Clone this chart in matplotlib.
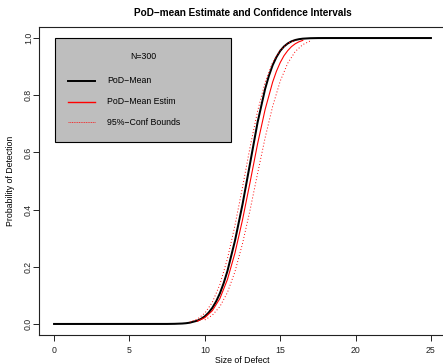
import matplotlib

matplotlib.use("Agg")
import matplotlib.pyplot as plt
from matplotlib.patches import Rectangle
from matplotlib.lines import Line2D

# PoD-mean (true curve)
mean_x = [0.0, 7.5, 8.0, 8.5, 8.75, 9.0, 9.5, 9.75, 10.0, 10.25, 10.5, 10.75, 11.0,
          11.25, 11.5, 12.0, 12.5, 13.0, 13.5, 14.0, 14.25, 14.5, 14.75, 15.0, 15.25,
          15.5, 15.75, 16.0, 16.25, 16.5, 17.0, 17.5, 18.0, 25.0]
mean_y = [0.0, 0.0001, 0.0005, 0.0015, 0.0026, 0.0044, 0.0114, 0.0177, 0.0267, 0.0393,
          0.0564, 0.0787, 0.107, 0.1425, 0.185, 0.291, 0.418, 0.561, 0.705, 0.822,
          0.8676, 0.905, 0.9332, 0.955, 0.9703, 0.981, 0.9884, 0.9931, 0.9960, 0.9978,
          0.9994, 0.9999, 1.0, 1.0]

# PoD-mean estimate
estim_x = [9.5, 10.0, 10.5, 11.0, 11.5, 12.0, 12.5, 13.0, 13.5, 14.0, 14.5, 14.75,
           15.0, 15.25, 15.5, 15.75, 16.0, 16.25, 16.5]
estim_y = [0.0095, 0.022, 0.0465, 0.089, 0.1555, 0.248, 0.364, 0.495, 0.630, 0.750,
           0.846, 0.8836, 0.914, 0.938, 0.956, 0.970, 0.980, 0.987, 0.9918]

# 95% confidence bounds
upper_x = [9.0, 9.5, 10.0, 10.5, 11.0, 11.5, 12.0, 12.5, 13.0, 13.5, 14.0, 14.5,
           15.0, 15.5, 16.0]
upper_y = [0.0068, 0.0168, 0.0376, 0.0758, 0.138, 0.228, 0.345, 0.478, 0.618, 0.744,
           0.845, 0.915, 0.958, 0.9815, 0.9927]
lower_x = [10.0, 10.5, 11.0, 11.5, 12.0, 12.5, 13.0, 13.5, 14.0, 14.5, 15.0, 15.5,
           16.0, 16.5, 17.0]
lower_y = [0.0141, 0.0307, 0.0608, 0.110, 0.183, 0.281, 0.398, 0.526, 0.651, 0.761,
           0.849, 0.912, 0.953, 0.977, 0.990]

legend_labels = ["PoD\u2212Mean", "PoD\u2212Mean Estim", "95%\u2212Conf Bounds"]
legend_title = "N=300"

plt.rcParams.update({
    "font.family": "Liberation Sans",
    "font.size": 6.3,
})

fig = plt.figure(figsize=(4.43, 3.64), dpi=100)
ax = fig.add_axes([39 / 443, 1 - 335.4 / 364, 407 / 443, 308.8 / 364])

ax.plot(mean_x, mean_y, color="black", linewidth=1.45)
ax.plot(estim_x, estim_y, color="red", linewidth=0.8)
dots = (0, (1.0, 2.2))
ax.plot(upper_x, upper_y, color="red", linewidth=0.7, linestyle=dots)
ax.plot(lower_x, lower_y, color="red", linewidth=0.7, linestyle=dots)

ax.set_xlim(-1, 26)
ax.set_ylim(-0.04, 1.04)
ax.set_xticks([0, 5, 10, 15, 20, 25])
ax.set_yticks([0.0, 0.2, 0.4, 0.6, 0.8, 1.0])
ax.set_yticklabels(["0.0", "0.2", "0.4", "0.6", "0.8", "1.0"], rotation=90, va="center")
ax.tick_params(length=4.3, width=0.7, labelsize=6.3, colors="#222222")
ax.tick_params(axis="x", pad=3)
ax.tick_params(axis="y", pad=0)
for s in ax.spines.values():
    s.set_linewidth(0.8)
    s.set_color("#222222")

ax.set_xlabel("Size of Defect", fontsize=6.3, labelpad=2)
ax.xaxis.set_label_coords(0.5, -0.068)
ax.set_ylabel("Probability of Detection", fontsize=6.3)
ax.yaxis.set_label_coords(-0.058, 0.5)
ax.set_title("PoD\u2212mean Estimate and Confidence Intervals", fontsize=7.2,
             fontweight="bold", pad=7.5)

# legend box drawn by hand in data coordinates, as in R
box = Rectangle((0.05, 0.635), 11.7, 0.365, facecolor="#bebebe", edgecolor="black",
                linewidth=0.8, zorder=3)
ax.add_patch(box)
ax.text(5.9, 0.935, legend_title, ha="center", va="center", fontsize=6.3, zorder=4)
styles = [
    dict(color="black", linewidth=1.4),
    dict(color="red", linewidth=1.0),
    dict(color="red", linewidth=0.5, linestyle=(0, (1.5, 1.0))),
]
for i, (lab, st) in enumerate(zip(legend_labels, styles)):
    yy = 0.85 - i * 0.072
    ax.add_line(Line2D([0.95, 2.7], [yy, yy], zorder=4, **st))
    ax.text(3.5, yy, lab, ha="left", va="center", fontsize=6.3, zorder=4)

fig.savefig("out.png", dpi=100)
